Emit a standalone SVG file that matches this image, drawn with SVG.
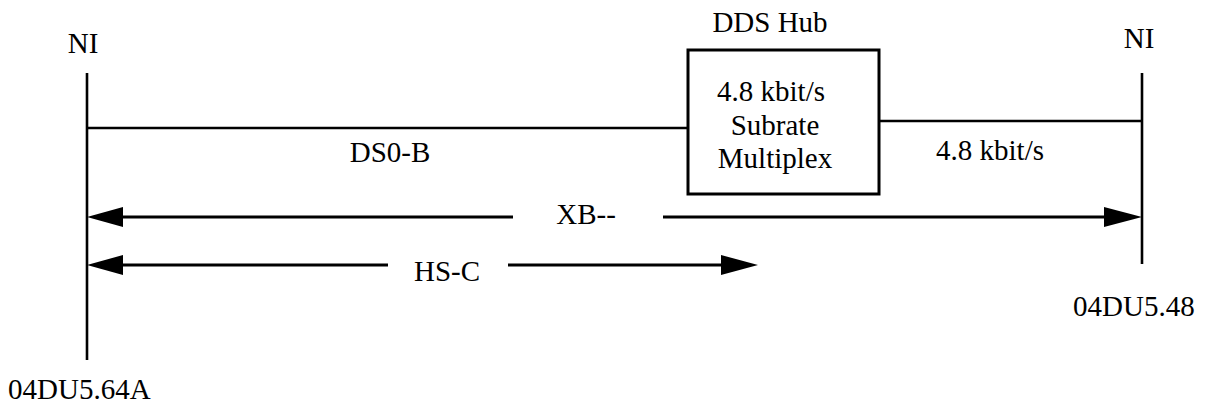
<svg xmlns="http://www.w3.org/2000/svg" width="1215" height="405" viewBox="0 0 1215 405">
<style>
.ln{stroke:#000;stroke-width:2.6;fill:none}
.ar{stroke:#000;stroke-width:3;fill:none}
.hd{fill:#000;stroke:none}
</style>
<rect width="1215" height="405" fill="#fff"/>
<g font-family="'Liberation Serif', 'DejaVu Serif', serif" font-size="29" fill="#000">
<g id="ni-left">
<line class="ln" x1="87" y1="73" x2="87" y2="360"/>
<text x="83" y="53" text-anchor="middle">NI</text>
<text x="8" y="399">04DU5.64A</text>
</g>
<g id="ni-right">
<line class="ln" x1="1142" y1="73" x2="1142" y2="264"/>
<text x="1139" y="48" text-anchor="middle">NI</text>
<text x="1073" y="316">04DU5.48</text>
</g>
<g id="dds-hub">
<rect x="688" y="50" width="191" height="144" fill="#fff" stroke="#000" stroke-width="3"/>
<text x="770" y="32" text-anchor="middle">DDS Hub</text>
<text x="771" y="101" text-anchor="middle">4.8 kbit/s</text>
<text x="775" y="135" text-anchor="middle">Subrate</text>
<text x="775" y="168" text-anchor="middle">Multiplex</text>
</g>
<g id="connectors">
<line class="ln" x1="87" y1="128" x2="688" y2="128"/>
<text x="390" y="162" text-anchor="middle">DS0-B</text>
<line class="ln" x1="879" y1="121" x2="1142" y2="121"/>
<text x="990" y="160" text-anchor="middle">4.8 kbit/s</text>
<line class="ar" x1="120" y1="217" x2="513" y2="217"/>
<line class="ar" x1="663" y1="217" x2="1106" y2="217"/>
<polygon class="hd" points="87,217 123,207 123,227"/>
<polygon class="hd" points="1142,217 1104,207 1104,227"/>
<text x="586" y="224" text-anchor="middle">XB--</text>
<line class="ar" x1="120" y1="265" x2="388" y2="265"/>
<line class="ar" x1="508" y1="265" x2="724" y2="265"/>
<polygon class="hd" points="87,265 123,255 123,275"/>
<polygon class="hd" points="758,265 721,255 721,275"/>
<text x="447" y="281" text-anchor="middle">HS-C</text>
</g>
</g>
</svg>
